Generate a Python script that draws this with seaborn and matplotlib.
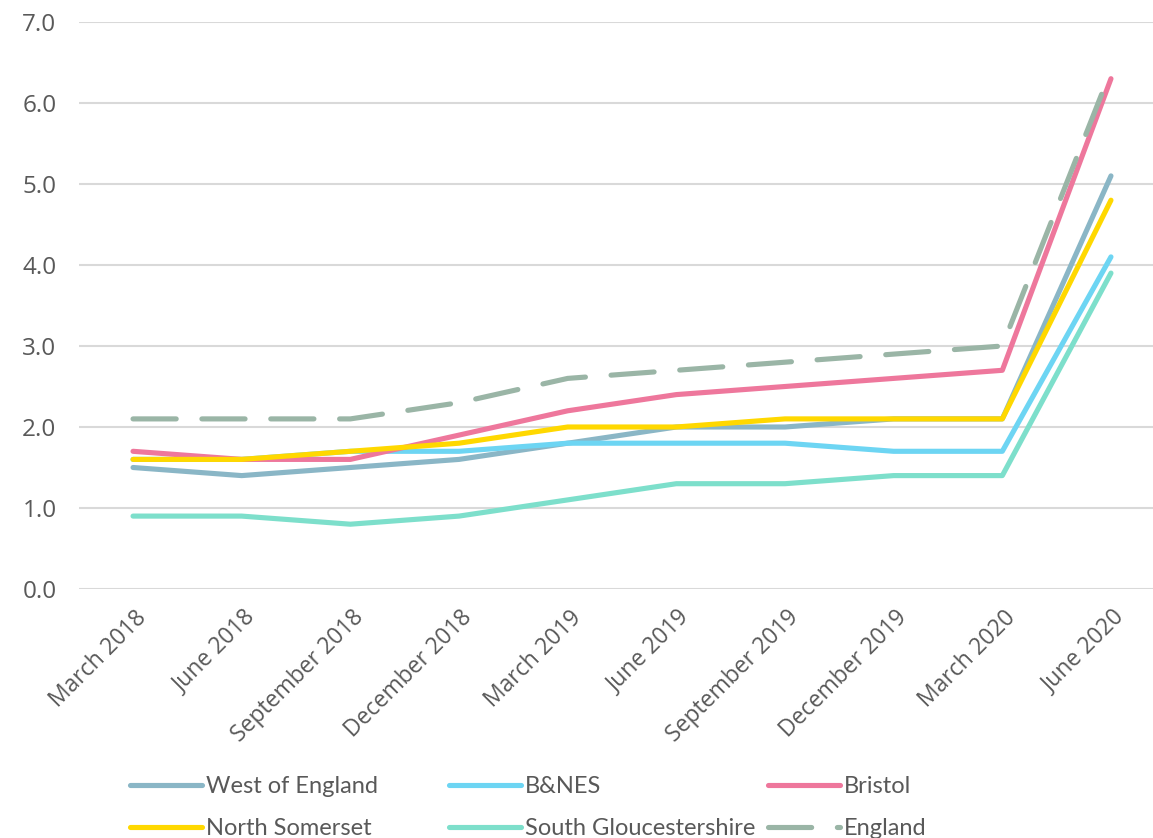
import matplotlib
matplotlib.use("Agg")
import matplotlib.pyplot as plt
import matplotlib.transforms as mtransforms
import pandas as pd
import seaborn as sns

quarters = ["March 2018", "June 2018", "September 2018", "December 2018",
            "March 2019", "June 2019", "September 2019", "December 2019",
            "March 2020", "June 2020"]

west_of_england = [1.5, 1.4, 1.5, 1.6, 1.8, 2.0, 2.0, 2.1, 2.1, 5.1]
bnes = [1.6, 1.6, 1.7, 1.7, 1.8, 1.8, 1.8, 1.7, 1.7, 4.1]
bristol = [1.7, 1.6, 1.6, 1.9, 2.2, 2.4, 2.5, 2.6, 2.7, 6.3]
north_somerset = [1.6, 1.6, 1.7, 1.8, 2.0, 2.0, 2.1, 2.1, 2.1, 4.8]
south_glos = [0.9, 0.9, 0.8, 0.9, 1.1, 1.3, 1.3, 1.4, 1.4, 3.9]
england = [2.1, 2.1, 2.1, 2.3, 2.6, 2.7, 2.8, 2.9, 3.0, 6.4]

series = {
    "West of England": west_of_england,
    "B&NES": bnes,
    "Bristol": bristol,
    "North Somerset": north_somerset,
    "South Gloucestershire": south_glos,
    "England": england,
}
colors = {
    "West of England": "#8AB6C6",
    "B&NES": "#6DD5F3",
    "Bristol": "#EE779C",
    "North Somerset": "#FFD800",
    "South Gloucestershire": "#7DDFCB",
    "England": "#9AB5A6",
}
dashes = {k: "" for k in series}
dashes["England"] = (8.4, 5)

df = pd.DataFrame(
    [(q, name, v) for name, vals in series.items() for q, v in zip(quarters, vals)],
    columns=["quarter", "area", "value"],
)

sns.set_style("white")
plt.rcParams["font.family"] = ["Open Sans", "DejaVu Sans"]
text_color = "#595959"

fig = plt.figure(figsize=(11.53, 8.38), dpi=100)
ax = fig.add_axes([78.7 / 1153, 1 - 589 / 838, (1165.3 - 78.7) / 1153, (589 - 22) / 838])

sns.lineplot(data=df, x="quarter", y="value", hue="area", style="area",
             palette=colors, dashes=dashes, hue_order=list(series),
             style_order=list(series), sort=False, linewidth=3.7,
             legend=False, ax=ax)
for line in ax.get_lines():
    line.set_solid_capstyle("round")
    line.set_dash_capstyle("round")

ax.set_xlim(-0.5, len(quarters) - 0.5)
ax.set_ylim(0, 7)
ax.set_yticks([0, 1, 2, 3, 4, 5, 6, 7])
ax.set_yticklabels([f"{v:.1f}" for v in range(8)])
ax.yaxis.grid(True, color="#D9D9D9", linewidth=1.5)
ax.set_axisbelow(True)
for s in ax.spines.values():
    s.set_visible(False)
ax.tick_params(axis="both", length=0, colors=text_color)
ax.tick_params(axis="y", pad=16, labelsize=17.5)
ax.tick_params(axis="x", pad=12, labelsize=16.5)
ax.set_xticks(range(len(quarters)))
ax.set_xticklabels(quarters, rotation=45, ha="right", rotation_mode="anchor")
offset = mtransforms.ScaledTranslation(1 / 72, 0, fig.dpi_scale_trans)
for lbl in ax.get_xticklabels():
    lbl.set_transform(lbl.get_transform() + offset)
ax.set_xlabel("")
ax.set_ylabel("")

handles = {name: line for name, line in zip(series, ax.get_lines())}
legend_size = 17
columns = [
    (["West of England", "North Somerset"], 130),
    (["B&NES", "South Gloucestershire"], 449),
    (["Bristol", "England"], 768),
]
for names, x0 in columns:
    leg = fig.legend([handles[n] for n in names], names,
                     loc="upper left", bbox_to_anchor=(x0 / 1153, 1 - 776 / 838),
                     frameon=False, prop={"family": ["Lato", "DejaVu Sans"], "size": legend_size},
                     handlelength=72 / (legend_size * 100 / 72),
                     handletextpad=0.15, labelspacing=0.9, borderpad=0,
                     borderaxespad=0)
    for t in leg.get_texts():
        t.set_color(text_color)

fig.savefig("out.png", dpi=100)
